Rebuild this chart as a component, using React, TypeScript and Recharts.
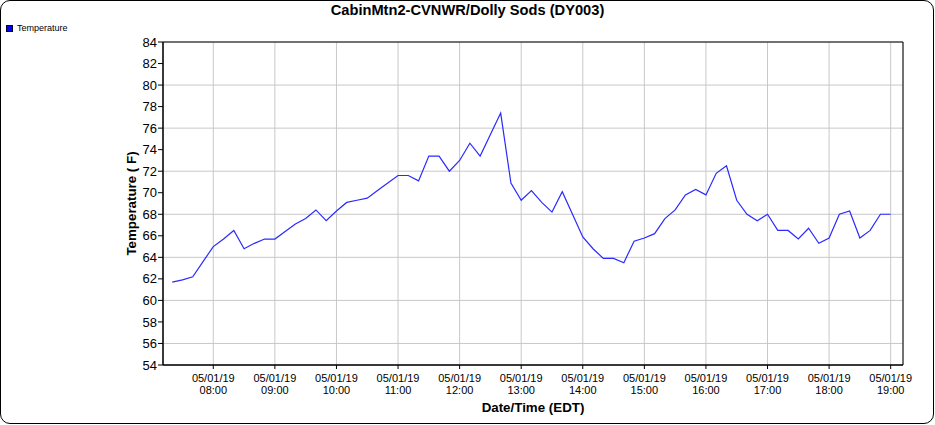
import React from "react";
import { LineChart, Line, XAxis, YAxis, CartesianGrid, ReferenceArea, Legend } from "recharts";

const times = [
    "07:20", "07:30", "07:40", "07:50",
    "08:00", "08:10", "08:20", "08:30", "08:40", "08:50",
    "09:00", "09:10", "09:20", "09:30", "09:40", "09:50",
    "10:00", "10:10", "10:20", "10:30", "10:40", "10:50",
    "11:00", "11:10", "11:20", "11:30", "11:40", "11:50",
    "12:00", "12:10", "12:20", "12:30", "12:40", "12:50",
    "13:00", "13:10", "13:20", "13:30", "13:40", "13:50",
    "14:00", "14:10", "14:20", "14:30", "14:40", "14:50",
    "15:00", "15:10", "15:20", "15:30", "15:40", "15:50",
    "16:00", "16:10", "16:20", "16:30", "16:40", "16:50",
    "17:00", "17:10", "17:20", "17:30", "17:40", "17:50",
    "18:00", "18:10", "18:20", "18:30", "18:40", "18:50",
    "19:00",
];

const temps = [
    61.7, 61.9, 62.2, 63.6,
    65.0, 65.7, 66.5, 64.8, 65.3, 65.7,
    65.7, 66.4, 67.1, 67.6, 68.4, 67.4,
    68.3, 69.1, 69.3, 69.5, 70.2, 70.9,
    71.6, 71.6, 71.1, 73.4, 73.4, 72.0,
    73.0, 74.6, 73.4, 75.4, 77.4, 70.9,
    69.3, 70.2, 69.1, 68.2, 70.1, 68.0,
    65.9, 64.8, 63.9, 63.9, 63.5, 65.5,
    65.8, 66.2, 67.6, 68.4, 69.8, 70.3,
    69.8, 71.8, 72.5, 69.3, 68.0, 67.4,
    68.0, 66.5, 66.5, 65.7, 66.7, 65.3,
    65.8, 68.0, 68.3, 65.8, 66.5, 68.0,
    68.0,
];

const hourTicks = [
    "08:00", "09:00", "10:00", "11:00", "12:00", "13:00",
    "14:00", "15:00", "16:00", "17:00", "18:00", "19:00",
];
const tempTicks = [54, 56, 58, 60, 62, 64, 66, 68, 70, 72, 74, 76, 78, 80, 82, 84];
const dateLabel = "05/01/19";
const seriesName = "Temperature";

// minutes since midnight
const toMin = (s: string) => {
    const [h, m] = s.split(":").map(Number);
    return h * 60 + m;
};
const pad = (n: number) => String(n).padStart(2, "0");
const fmtMin = (v: number) => `${pad(Math.floor(v / 60))}:${pad(v % 60)}`;

const chartData = times.map((t, i) => ({ t: toMin(t), temp: temps[i] }));
const xDomain = [431, 1152];

const FONT = "'Liberation Sans', Arial, sans-serif";

function TimeTick(props: any) {
    const { x, y, payload } = props;
    return (
        <text x={x} y={y} textAnchor="middle" fontSize={11} fontFamily={FONT} fill="#000">
            <tspan x={x} dy={10.5}>{dateLabel}</tspan>
            <tspan x={x} dy={12}>{fmtMin(payload.value)}</tspan>
        </text>
    );
}

function LegendBox() {
    return (
        <div style={{ display: "flex", alignItems: "center", fontFamily: FONT, fontSize: 9, color: "#000" }}>
            <span style={{ display: "inline-block", width: 5, height: 5, background: "#0000ff", border: "0.5px solid #000033", marginRight: 4 }} />
            {seriesName}
        </div>
    );
}

export default function App() {
    return (
        <div style={{ position: "absolute", left: 0, top: 0, width: 935, height: 425, background: "#fff" }}>
            <div
                style={{
                    position: "absolute", left: 0, top: 0, width: 934, height: 424,
                    boxSizing: "border-box", border: "1px solid #000", borderRadius: 10,
                }}
            />
            <div
                style={{
                    position: "absolute", left: 0, top: 2, width: 935, textAlign: "center",
                    fontFamily: FONT, fontWeight: "bold", fontSize: 14.67, color: "#000",
                }}
            >
                CabinMtn2-CVNWR/Dolly Sods (DY003)
            </div>
            <LineChart
                width={935}
                height={425}
                data={chartData}
                margin={{ top: 42, right: 32, left: 0, bottom: 0 }}
                style={{ position: "absolute", left: 0, top: 0 }}
            >
                <CartesianGrid stroke="#c8c8c8" strokeWidth={1} />
                <XAxis
                    dataKey="t"
                    type="number"
                    domain={xDomain}
                    ticks={hourTicks.map(toMin)}
                    height={60}
                    tickSize={4}
                    tickMargin={2}
                    stroke="#000"
                    tick={<TimeTick />}
                    allowDataOverflow
                    label={{
                        content: ({ viewBox }: any) => (
                            <text
                                x={viewBox.x + viewBox.width / 2}
                                y={viewBox.y + 47}
                                textAnchor="middle"
                                fontFamily={FONT}
                                fontWeight="bold"
                                fontSize={13.33}
                                fill="#000"
                            >
                                Date/Time (EDT)
                            </text>
                        ),
                    }}
                />
                <YAxis
                    type="number"
                    domain={[54, 84]}
                    ticks={tempTicks}
                    width={163}
                    tickSize={5}
                    tickMargin={1}
                    stroke="#000"
                    tick={{ fontSize: 13, fontFamily: FONT, fill: "#000" }}
                    allowDataOverflow
                    label={{
                        content: ({ viewBox }: any) => {
                            const cx = 136;
                            const cy = viewBox.y + viewBox.height / 2;
                            return (
                                <text
                                    x={cx}
                                    y={cy}
                                    transform={`rotate(-90, ${cx}, ${cy})`}
                                    textAnchor="middle"
                                    fontFamily={FONT}
                                    fontWeight="bold"
                                    fontSize={13.33}
                                    fill="#000"
                                >
                                    Temperature ( F)
                                </text>
                            );
                        },
                    }}
                />
                <ReferenceArea x1={xDomain[0]} x2={xDomain[1]} y1={54} y2={84} fill="none" stroke="#000" strokeWidth={1} />
                <Legend
                    layout="horizontal"
                    verticalAlign="middle"
                    align="center"
                    wrapperStyle={{ top: 23, left: 6, width: "auto" }}
                    content={() => <LegendBox />}
                />
                <Line
                    type="linear"
                    dataKey="temp"
                    name={seriesName}
                    stroke="#2a2aff"
                    strokeWidth={1.2}
                    dot={false}
                    isAnimationActive={false}
                />
            </LineChart>
        </div>
    );
}
